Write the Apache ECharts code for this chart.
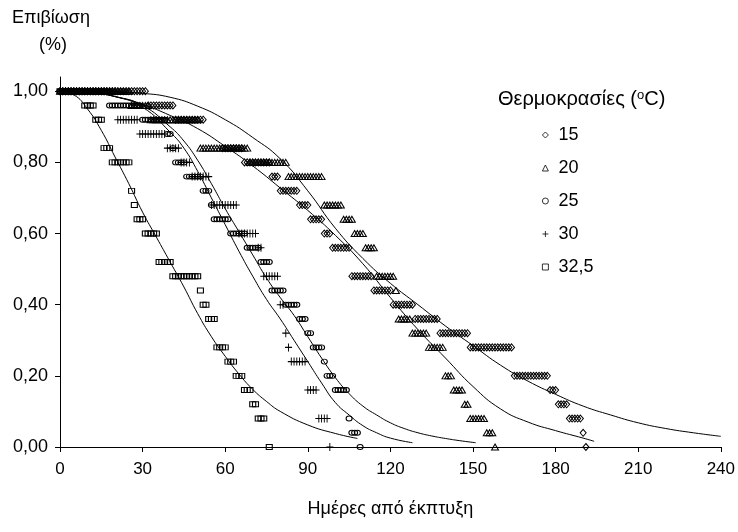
<!DOCTYPE html>
<html><head><meta charset="utf-8">
<script src="https://cdn.jsdelivr.net/npm/echarts@6/dist/echarts.min.js"></script>
<style>html,body{margin:0;padding:0;background:#fff}#c{width:738px;height:532px}</style>
</head><body><div id="c"></div>
<script>
// ---- axis ticks / labels ----
const xTicks = [0, 30, 60, 90, 120, 150, 180, 210, 240];
const yTicks = [0, 0.2, 0.4, 0.6, 0.8, 1.0];
const yTickLabels = ['0,00', '0,20', '0,40', '0,60', '0,80', '1,00'];
const seriesNames = ['15', '20', '25', '30', '32,5'];

// ---- observed daily survival (array index = day after emergence; null = no visible record) ----
const surv15 = [
 1,1,1,1,1,1,1,1,1,1, 1,1,1,1,1,1,1,1,1,1, 1,1,1,1,1,1,1,1,1,1, 1,1,
 .96,.96,.96,.96,.96,.96,.96,.96,.96,.96,
 .92,.92,.92,.92,.92,.92,.92,.92,.92,.92,.92,
 null,null,null,null,null,null,
 .84,.84,.84,.84,.84,.84,.84,.84,
 .80,.80,.80,.80,.80,.80,.80,.80,.80,.80,
 .76,.76,.76,
 .72,.72,.72,.72,.72,.72,.72,
 .68,.68,.68,.68,
 .64,.64,.64,.64,.64,
 .60,.60,.60,
 .56,.56,.56,.56,.56,.56,.56,
 .48,.48,.48,.48,.48,.48,.48,.48,
 .44,.44,.44,.44,.44,.44,.44,
 .40,.40,.40,.40,.40,.40,.40,.40,
 .36,.36,.36,.36,.36,.36,.36,.36,.36,
 .32,.32,.32,.32,.32,.32,.32,.32,.32,.32,.32,
 .28,.28,.28,.28,.28,.28,.28,.28,.28,.28,.28,.28,.28,.28,.28,.28,
 .20,.20,.20,.20,.20,.20,.20,.20,.20,.20,.20,.20,.20,
 .16,.16,.16,
 .12,.12,.12,.12,
 .08,.08,.08,.08,.08,
 .04,
 0
];
const surv20 = [
 1,1,1,1,1,1,1,1,1,1, 1,1,1,1,1,1,1,1,1,1, 1,1,1,1,1,1,
 .96,.96,.96,.96,.96,.96,.96,
 .92,.92,.92,.92,.92,.92,.92,.92,.92,.92,.92,.92,.92,.92,.92,.92,.92,.92,
 .84,.84,.84,.84,.84,.84,.84,.84,.84,.84,.84,.84,.84,.84,.84,.84,.84,.84,
 .80,.80,.80,.80,.80,.80,.80,.80,.80,.80,.80,.80,.80,.80,
 .76,.76,.76,.76,.76,.76,.76,.76,.76,.76,.76,.76,.76,
 .68,.68,.68,.68,.68,.68,.68,
 .64,.64,.64,.64,
 .60,.60,.60,.60,
 .56,.56,.56,.56,
 .48,.48,.48,.48,.48,.48,.48,
 .44,
 .36,.36,.36,.36,.36,
 .32,.32,.32,.32,.32,.32,
 .28,.28,.28,.28,.28,.28,
 .20,.20,.20,
 .16,.16,.16,.16,
 .12,.12,
 .08,.08,.08,.08,.08,.08,
 .04,.04,.04,
 0
];
const surv25 = [
 1,1,1,1,1,1,1,1,1,1, 1,1,1,1,1,1,1,1,
 .96,.96,.96,.96,.96,.96,.96,.96,.96,.96,.96,.96,
 .92,.92,.92,.92,.92,.92,.92,.92,.92,
 .88,.88,
 .84,
 .80,.80,.80,.80,
 .76,.76,.76,.76,.76,.76,
 .72,.72,.72,
 .68,
 .64,.64,.64,.64,.64,.64,
 .60,.60,.60,.60,.60,.60,
 .56,.56,.56,.56,.56,
 .52,.52,.52,.52,
 .44,.44,.44,.44,.44,
 .40,.40,.40,.40,.40,
 .36,.36,.36,
 .32,.32,
 .28,.28,.28,.28,
 .24,
 .20,.20,.20,
 .16,.16,.16,.16,.16,
 .08,
 .04,.04,.04,
 0
];
const surv30 = [
 1,1,1,1,1,1,1,1,1,1, 1,1,1,1,1,1,1,1,1,1, 1,
 .92,.92,.92,.92,.92,.92,.92,.92,
 .88,.88,.88,.88,.88,.88,.88,.88,.88,.88,
 .84,.84,.84,.84,.84,
 .80,.80,.80,.80,
 .76,.76,.76,.76,.76,.76,.76,
 .68,.68,.68,.68,.68,.68,.68,.68,.68,.68,
 .60,.60,.60,.60,.60,.60,.60,
 .56,.56,
 .48,.48,.48,.48,.48,.48,
 .40,.40,
 .32,
 .28,
 .24,.24,.24,.24,.24,.24,
 .16,.16,.16,.16,
 .08,.08,.08,.08,
 0
];
const surv325 = [
 1,1,1,1,1,1,1,1,1,
 .96,.96,.96,.96,
 .92,.92,.92,
 .84,.84,.84,
 .80,.80,.80,.80,.80,.80,.80,
 .72,
 .68,
 .64,.64,.64,
 .60,.60,.60,.60,.60,
 .52,.52,.52,.52,.52,
 .48,.48,.48,.48,.48,.48,.48,.48,.48,.48,
 .44,
 .40,.40,
 .36,.36,.36,
 .28,.28,.28,.28,
 .24,.24,.24,
 .20,.20,.20,
 .16,.16,.16,
 .12,.12,
 .08,.08,.08,
 null,
 0
];

// ---- fitted survival curves: [day, survival] ----
const fit15 = [[0,1],[10,1],[20,.998],[30,.994],[40,.983],[50,.958],[60,.92],[70,.87],[80,.81],[90,.72],[100,.615],[110,.53],[120,.46],[130,.4],[140,.34],[150,.285],[160,.23],[170,.185],[180,.148],[190,.115],[200,.09],[210,.068],[220,.052],[230,.04],[240,.03]];
const fit20 = [[0,1],[10,.997],[20,.985],[30,.963],[40,.932],[50,.895],[60,.845],[70,.79],[80,.728],[90,.665],[100,.595],[110,.515],[120,.42],[130,.33],[140,.25],[150,.17],[160,.107],[170,.07],[180,.046],[190,.025],[194,.016]];
const fit25 = [[0,1],[10,.998],[20,.985],[30,.96],[40,.9],[45,.86],[50,.806],[55,.74],[60,.67],[65,.605],[70,.54],[75,.475],[80,.42],[85,.37],[90,.31],[95,.25],[100,.195],[105,.15],[110,.115],[115,.09],[120,.068],[125,.052],[130,.04],[135,.031],[140,.024],[145,.018],[151,.012]];
const fit30 = [[0,1],[10,.998],[20,.985],[30,.955],[40,.885],[45,.84],[50,.775],[55,.7],[60,.625],[65,.55],[70,.48],[75,.415],[80,.36],[85,.3],[90,.24],[95,.18],[100,.125],[105,.09],[110,.06],[115,.04],[120,.025],[128,.012]];
const fit325 = [[0,1],[5,.99],[10,.95],[15,.89],[20,.815],[25,.74],[30,.66],[35,.59],[40,.52],[45,.45],[50,.375],[55,.31],[60,.255],[65,.205],[70,.162],[75,.128],[80,.1],[90,.062],[100,.038],[108,.024]];

const FONT = 'Liberation Sans, Arial, sans-serif';
const survData = [surv15, surv20, surv25, surv30, surv325];
const fitData = [fit15, fit20, fit25, fit30, fit325];
const symbols = ['diamond', 'triangle', 'circle', 'path://M0,4L8,4M4,0L4,8', 'rect'];
const symbolSizes = [[6,7], [7,6], [6,5], [7,8], [6,5]];

const series = [];
survData.forEach((arr, i) => {
  series.push({
    name: seriesNames[i], type: 'scatter',
    data: arr.map((v, day) => [day, v]).filter(p => p[1] !== null),
    symbol: symbols[i], symbolSize: symbolSizes[i], z: 2,
    itemStyle: { color: 'rgba(0,0,0,0)', borderColor: '#000', borderWidth: 1, opacity: 1 }
  });
});
fitData.forEach((d, i) => {
  series.push({
    name: 'fit ' + seriesNames[i], type: 'line', data: d, smooth: true,
    symbol: 'none', silent: true, z: 3,
    lineStyle: { color: '#000', width: 1 }
  });
});

const chart = echarts.init(document.getElementById('c'), null, { renderer: 'canvas' });
chart.setOption({
  animation: false,
  backgroundColor: '#fff',
  textStyle: { fontFamily: FONT, color: '#000' },
  grid: { left: 60, top: 77, width: 666, height: 370 },
  xAxis: {
    type: 'value', min: 0, max: 240, interval: 30,
    name: 'Ημέρες από έκπτυξη', nameLocation: 'middle', nameGap: 53,
    nameTextStyle: { fontSize: 18, color: '#000', fontFamily: FONT },
    axisLine: { lineStyle: { color: '#000', width: 1 } },
    axisTick: { show: true, length: 5, customValues: xTicks, lineStyle: { color: '#000' } },
    axisLabel: { customValues: xTicks, margin: 14, fontSize: 17, color: '#000', fontFamily: FONT },
    splitLine: { show: false }
  },
  yAxis: {
    type: 'value', min: 0, max: 1.04,
    axisLine: { show: true, lineStyle: { color: '#000', width: 1 } },
    axisTick: { show: true, length: 5, customValues: yTicks, lineStyle: { color: '#000' } },
    axisLabel: { customValues: yTicks, margin: 12, fontSize: 18, color: '#000', fontFamily: FONT,
      formatter: v => yTickLabels[Math.round(v / 0.2)] },
    splitLine: { show: false }
  },
  legend: {
    data: seriesNames, orient: 'vertical', left: 537, top: 121,
    itemWidth: 6, itemHeight: 6, itemGap: 15, selectedMode: false,
    itemStyle: { borderWidth: 0.8 },
    textStyle: { fontSize: 18, color: '#000', fontFamily: FONT, padding: [0, 0, 0, 5] }
  },
  graphic: [
    { type: 'text', x: 51, y: 18,
      style: { text: 'Επιβίωση', fontSize: 18, fontFamily: FONT, fill: '#000', align: 'center', verticalAlign: 'middle' } },
    { type: 'text', x: 53, y: 45,
      style: { text: '(%)', fontSize: 18, fontFamily: FONT, fill: '#000', align: 'center', verticalAlign: 'middle' } },
    { type: 'text', left: 498, top: 89,
      style: {
        text: '{a|Θερμοκρασίες (}{s|o}{a|C)}',
        rich: {
          a: { fontSize: 20, fontFamily: FONT, fill: '#000' },
          s: { fontSize: 13, fontFamily: FONT, fill: '#000', verticalAlign: 'top' }
        }
      }
    }
  ],
  series: series
});
</script></body></html>
